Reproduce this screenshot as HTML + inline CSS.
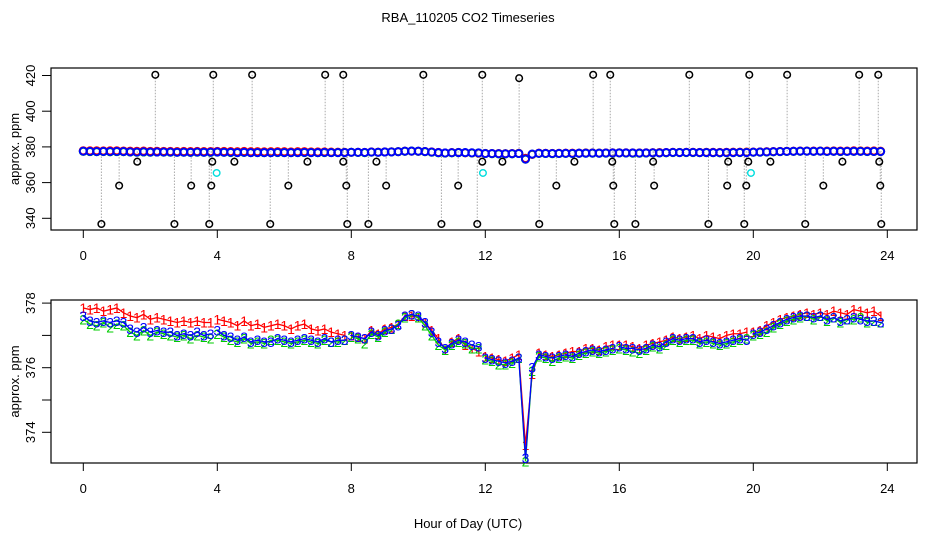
<!DOCTYPE html>
<html><head><meta charset="utf-8"><style>
html,body{margin:0;padding:0;background:#fff;}
svg{display:block;font-family:"Liberation Sans",Arial,sans-serif;}
</style></head><body>
<svg id="chart" width="936" height="540" viewBox="0 0 936 540" xmlns="http://www.w3.org/2000/svg">
<rect width="936" height="540" fill="#fff"/>
<text x="468" y="22" font-size="13" text-anchor="middle">RBA_110205  CO2 Timeseries</text>
<text x="468" y="528" font-size="13" text-anchor="middle">Hour of Day (UTC)</text>
<g id="top"></g>
<g id="bot"></g>
</svg>
<script>
const hours = [];
for (let i = 0; i < 120; i++) hours.push(+(i * 0.2).toFixed(1));
const series1 = [377.85,377.8,377.85,377.75,377.8,377.85,377.7,377.6,377.55,377.65,377.5,377.55,377.5,377.45,377.4,377.45,377.4,377.45,377.4,377.4,
377.5,377.45,377.4,377.3,377.45,377.3,377.35,377.25,377.3,377.35,377.3,377.2,377.3,377.35,377.2,377.15,377.2,377.1,377.05,377.0,
377.0,376.95,376.9,377.15,377.05,377.2,377.25,377.35,377.6,377.6,377.55,377.4,377.15,376.9,376.55,376.8,376.9,376.7,376.6,376.5,
376.35,376.3,376.25,376.2,376.3,376.4,373.6,375.8,376.45,376.4,376.35,376.4,376.45,376.5,376.5,376.6,376.6,376.55,376.65,376.7,
376.7,376.7,376.65,376.6,376.7,376.75,376.8,376.85,376.95,376.9,376.95,377.0,376.9,377.0,376.95,376.9,377.0,377.05,377.05,377.1,
377.1,377.15,377.3,377.4,377.5,377.55,377.6,377.65,377.7,377.65,377.7,377.65,377.75,377.7,377.65,377.8,377.75,377.7,377.75,377.6];
const series2 = [377.5,377.35,377.3,377.4,377.25,377.35,377.3,377.1,377.0,377.15,377.0,377.1,377.05,377.0,376.95,377.0,376.9,377.0,376.95,376.9,
377.05,376.95,376.85,376.8,376.9,376.75,376.8,376.75,376.85,376.85,376.8,376.75,376.8,376.85,376.8,376.75,376.85,376.8,376.8,376.85,
376.95,376.9,376.75,377.05,376.95,377.1,377.2,377.35,377.55,377.65,377.55,377.3,377.0,376.7,376.55,376.7,376.8,376.75,376.6,376.6,
376.25,376.2,376.1,376.1,376.15,376.3,373.1,375.9,376.35,376.3,376.2,376.3,376.35,376.3,376.4,376.45,376.5,376.45,376.5,376.55,
376.6,376.55,376.5,376.45,376.55,376.65,376.6,376.7,376.85,376.8,376.85,376.85,376.75,376.8,376.75,376.7,376.75,376.8,376.85,376.9,
377.0,377.05,377.1,377.25,377.35,377.45,377.5,377.55,377.6,377.5,377.6,377.45,377.55,377.4,377.5,377.5,377.55,377.4,377.45,377.4];
const series3 = [377.6,377.45,377.4,377.45,377.4,377.45,377.4,377.2,377.1,377.25,377.1,377.15,377.1,377.1,377.0,377.05,377.0,377.1,377.0,377.05,
377.15,377.0,376.95,376.85,376.95,376.8,376.85,376.8,376.8,376.9,376.85,376.8,376.85,376.9,376.85,376.8,376.9,376.8,376.85,376.85,
377.0,376.95,376.9,377.1,377.0,377.15,377.2,377.3,377.6,377.65,377.6,377.4,377.1,376.8,376.6,376.75,376.85,376.8,376.7,376.65,
376.3,376.25,376.2,376.15,376.2,376.3,373.2,376.0,376.4,376.35,376.3,376.35,376.4,376.35,376.45,376.5,376.55,376.5,376.55,376.6,
376.65,376.6,376.6,376.55,376.6,376.7,376.65,376.8,376.9,376.85,376.9,376.9,376.8,376.85,376.8,376.75,376.8,376.85,376.9,376.85,
377.05,377.1,377.2,377.3,377.4,377.5,377.55,377.6,377.6,377.55,377.6,377.5,377.55,377.45,377.5,377.55,377.5,377.45,377.45,377.4];
const spikeHours = [2.15,3.88,5.04,7.22,7.76,10.15,11.91,13.01,15.22,15.73,18.09,19.88,21.01,23.16,23.73,
1.61,3.85,4.51,6.69,7.76,8.75,11.91,12.51,14.66,15.79,17.01,19.25,19.85,20.51,22.66,23.76,
1.07,3.22,3.82,6.12,7.85,9.04,11.19,14.12,15.82,17.04,19.22,19.79,22.09,23.79,
0.54,2.72,3.76,5.58,7.88,8.51,10.69,11.76,13.61,15.85,16.48,18.66,19.73,21.55,23.82];
const spikeValues = [420.4,420.4,420.4,420.4,420.4,420.4,420.4,418.5,420.4,420.4,420.4,420.4,420.4,420.4,420.4,
371.7,371.7,371.7,371.7,371.7,371.7,371.7,371.7,371.7,371.7,371.7,371.7,371.7,371.7,371.7,371.7,
358.3,358.3,358.3,358.3,358.3,358.3,358.3,358.3,358.3,358.3,358.3,358.3,358.3,358.3,
336.8,336.8,336.8,336.8,336.8,336.8,336.8,336.8,336.8,336.8,336.8,336.8,336.8,336.8,336.8];
const cyanHours = [3.98,11.93,19.93];
const cyanValues = [365.4,365.4,365.4];
const xTicks = [0,4,8,12,16,20,24];
const topYTicks = [340,360,380,400,420];
const botYTicks = [374,375,376,377,378];
const botYLabels = ["374","","376","","378"];

const NS = "http://www.w3.org/2000/svg";
function mk(parent, tag, attrs, text) {
  const e = document.createElementNS(NS, tag);
  for (const k in attrs) e.setAttribute(k, attrs[k]);
  if (text !== undefined) e.textContent = text;
  parent.appendChild(e);
  return e;
}
const X = h => 83.3 + h * 33.5;
const topY = v => 218.3 - (v - 340) * 1.785;
const botY = v => 432.3 - (v - 374) * 32.3;
const colors = ["#ff0000", "#00cc00", "#0000ff"];
const allSeries = [series1, series2, series3];

function axes(g, top, bottom, yFn, yTicks, yLabels, name) {
  const frame = mk(g, "rect", {x: 51, y: top, width: 866, height: bottom - top, fill: "none", stroke: "#000", "stroke-width": 1.2});
  
  
  xTicks.forEach(t => {
    const l = mk(g, "line", {x1: X(t), x2: X(t), y1: bottom, y2: bottom + 8, stroke: "#000"});
    
    
    const tx = mk(g, "text", {x: X(t), y: bottom + 30, "font-size": 13, "text-anchor": "middle"}, String(t));
    
    
  });
  yTicks.forEach((t, i) => {
    const y = yFn(t);
    const l = mk(g, "line", {x1: 42, x2: 51, y1: y, y2: y, stroke: "#000"});
    
    
    if (yLabels[i]) {
      const tx = mk(g, "text", {x: 0, y: 0, "font-size": 13, "text-anchor": "middle", transform: `translate(35,${y}) rotate(-90)`}, yLabels[i]);
      
      
    }
  });
  const yt = mk(g, "text", {x: 0, y: 0, "font-size": 13, "text-anchor": "middle", transform: `translate(19,${(top + bottom) / 2}) rotate(-90)`}, "approx. ppm");
  
  
}

function segments(arr, fn) {
  let segs = [], cur = [];
  arr.forEach((v, i) => {
    if (i > 0 && Math.round(hours[i] * 10) % 40 === 0) { segs.push(cur); cur = []; }
    cur.push([X(hours[i]), fn(v)]);
  });
  segs.push(cur);
  return segs;
}

// top panel
const gt = document.getElementById("top");
axes(gt, 68, 230, topY, topYTicks, topYTicks.map(String), "top");
spikeHours.forEach((h, i) => {
  const l = mk(gt, "line", {x1: X(h), x2: X(h), y1: topY(spikeValues[i]), y2: topY(377.5), stroke: "#aaa", "stroke-dasharray": "1.5,1.5"});
  
  
});
allSeries.forEach((s, k) => {
  s.forEach((v, i) => {
    const c = mk(gt, "circle", {cx: X(hours[i]), cy: topY(v), r: 3.6, fill: "none", stroke: colors[k], "stroke-width": 1.9});
    
    
  });
});
spikeHours.forEach((h, i) => {
  const c = mk(gt, "circle", {cx: X(h), cy: topY(spikeValues[i]), r: 3.3, fill: "none", stroke: "#000", "stroke-width": 1.5});
  
  
});
cyanHours.forEach((h, i) => {
  const c = mk(gt, "circle", {cx: X(h), cy: topY(cyanValues[i]), r: 3.3, fill: "none", stroke: "#00dddd", "stroke-width": 1.4});
  
  
});

// bottom panel
const gb = document.getElementById("bot");
axes(gb, 300, 463, botY, botYTicks, botYLabels, "bottom");
allSeries.forEach((s, k) => {
  segments(s, botY).forEach(seg => {
    const p = mk(gb, "polyline", {points: seg.map(q => q.join(",")).join(" "), fill: "none", stroke: colors[k], "stroke-width": 1.3});
    
    
  });
  s.forEach((v, i) => {
    const t = mk(gb, "text", {x: X(hours[i]), y: botY(v) + 5, "font-size": 14, "text-anchor": "middle", fill: colors[k]}, String(k + 1));
    
    
  });
});
</script>
</body></html>
